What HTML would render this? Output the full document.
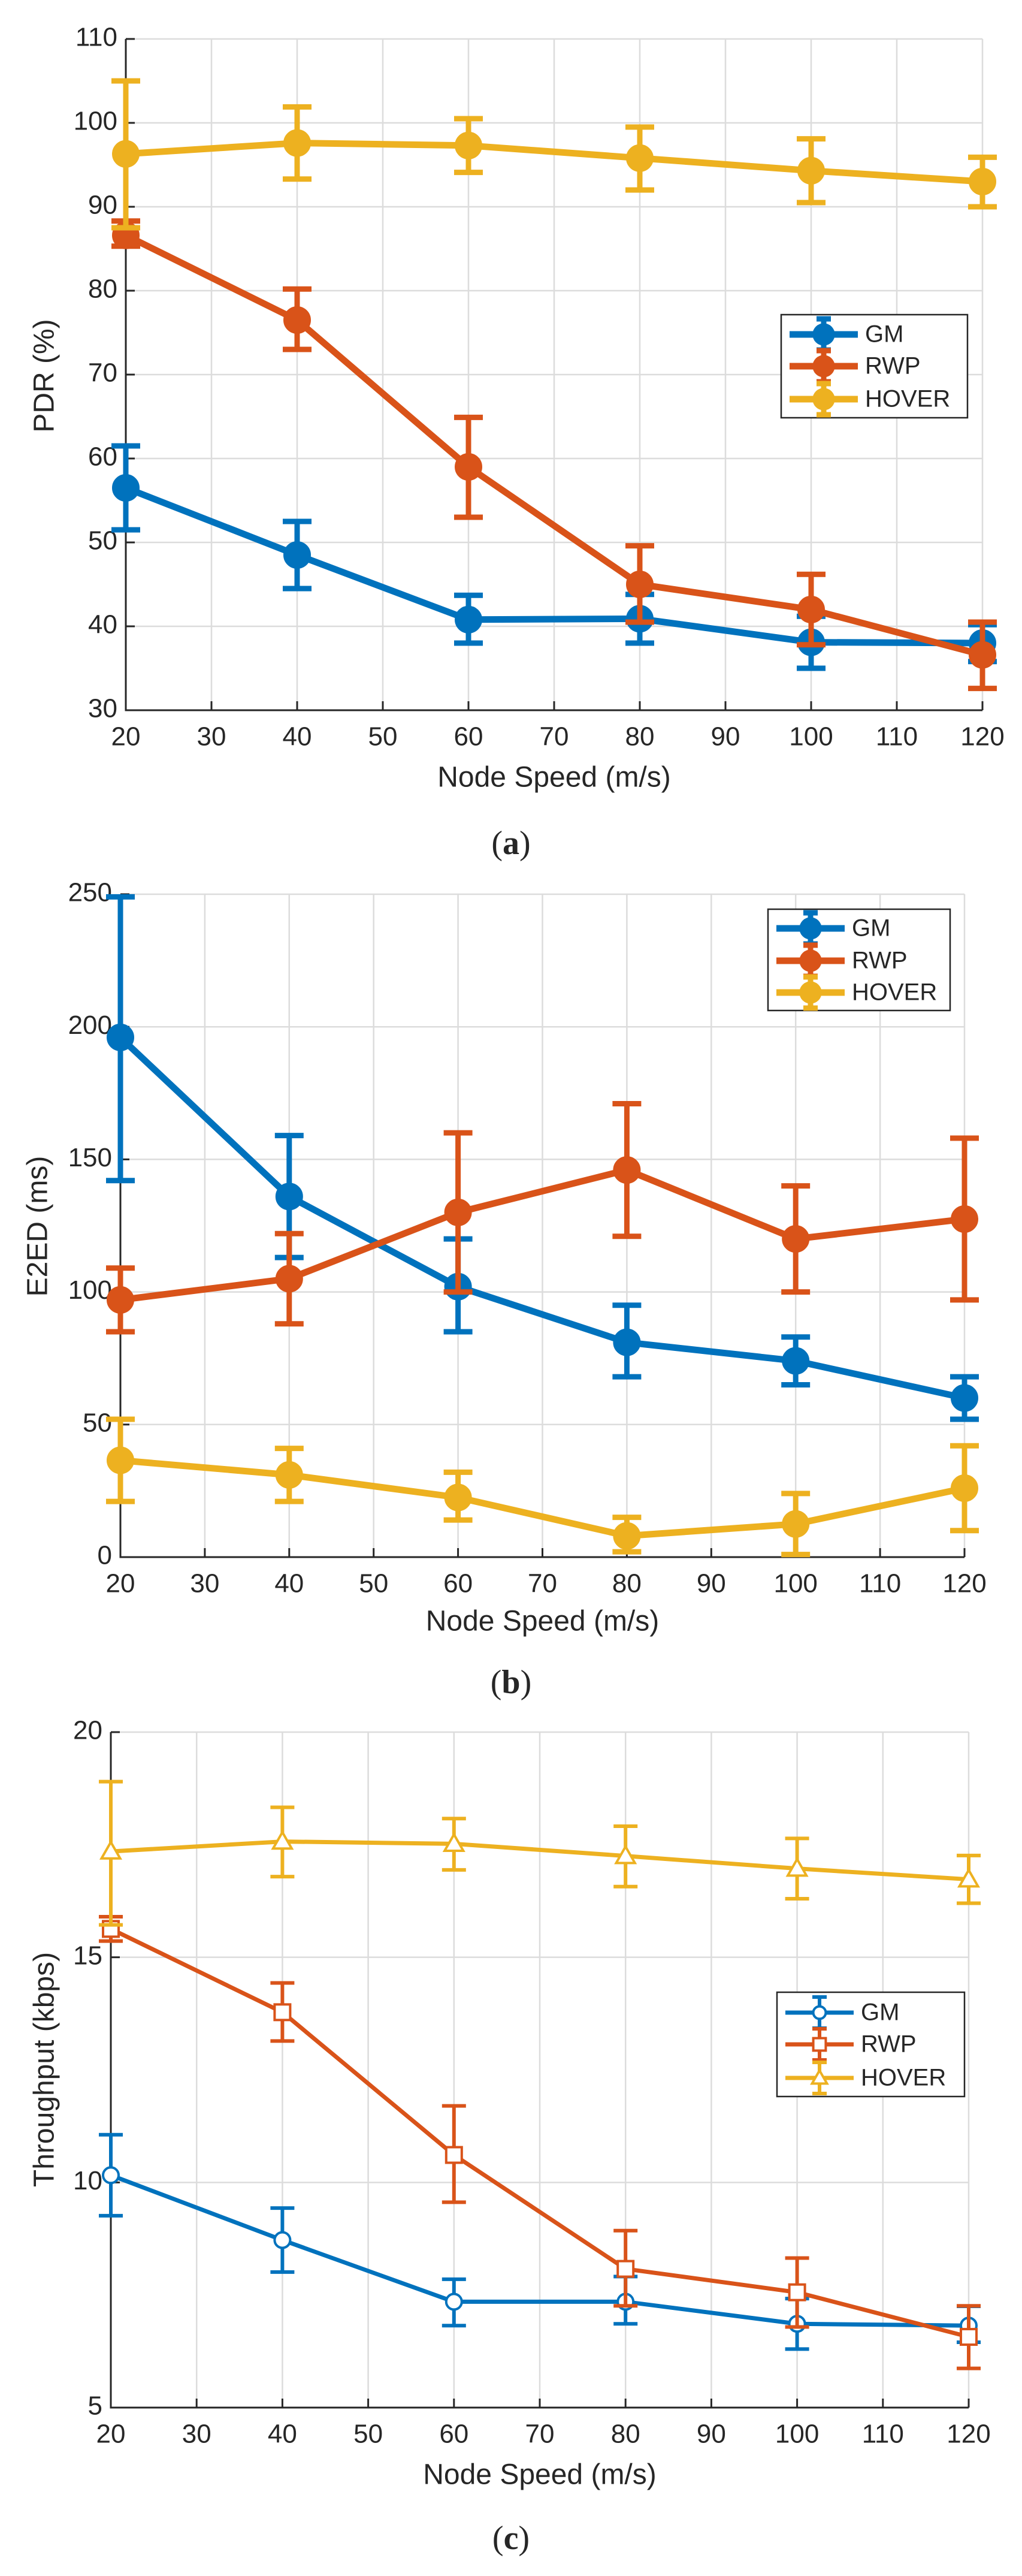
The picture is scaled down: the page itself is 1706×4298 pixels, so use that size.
<!DOCTYPE html>
<html><head><meta charset="utf-8"><style>
html,body{margin:0;padding:0;background:#fff;}
svg{display:block;}
text{font-family:"Liberation Sans",sans-serif;fill:#262626;}
</style></head><body>
<svg id="fig" width="1706" height="4298" viewBox="0 0 1706 4298" xmlns="http://www.w3.org/2000/svg"></svg>
<script>
// ---- shared categories ----
const speeds = [20, 40, 60, 80, 100, 120];
const xTicks = [20, 30, 40, 50, 60, 70, 80, 90, 100, 110, 120];
const seriesNames = ["GM", "RWP", "HOVER"];

// ---- (a) PDR ----
const pdrGM = [56.5, 48.5, 40.8, 40.9, 38.1, 38.0];
const pdrGMLo = [51.5, 44.5, 38.0, 38.0, 35.0, 35.8];
const pdrGMHi = [61.5, 52.5, 43.7, 43.8, 41.2, 40.2];
const pdrRWP = [86.6, 76.5, 59.0, 45.0, 42.0, 36.6];
const pdrRWPLo = [85.3, 73.0, 53.0, 40.5, 37.8, 32.6];
const pdrRWPHi = [88.3, 80.2, 64.9, 49.6, 46.2, 40.5];
const pdrHOV = [96.3, 97.6, 97.3, 95.8, 94.3, 93.0];
const pdrHOVLo = [87.5, 93.3, 94.1, 92.0, 90.5, 90.0];
const pdrHOVHi = [105.0, 101.9, 100.5, 99.5, 98.1, 95.9];
const pdrTicks = [30, 40, 50, 60, 70, 80, 90, 100, 110];

// ---- (b) E2ED ----
const e2eGM = [196, 136, 102, 81, 74, 60];
const e2eGMLo = [142, 113, 85, 68, 65, 52];
const e2eGMHi = [249, 159, 120, 95, 83, 68];
const e2eRWP = [97, 105, 130, 146, 120, 127.5];
const e2eRWPLo = [85, 88, 100, 121, 100, 97];
const e2eRWPHi = [109, 122, 160, 171, 140, 158];
const e2eHOV = [36.5, 31, 22.5, 8, 12.5, 26];
const e2eHOVLo = [21, 21, 14, 2, 1, 10];
const e2eHOVHi = [52, 41, 32, 15, 24, 42];
const e2eTicks = [0, 50, 100, 150, 200, 250];

// ---- (c) Throughput ----
const thrGM = [10.16, 8.72, 7.35, 7.35, 6.86, 6.82];
const thrGMLo = [9.26, 8.01, 6.82, 6.86, 6.30, 6.45];
const thrGMHi = [11.06, 9.43, 7.85, 7.91, 7.42, 7.25];
const thrRWP = [15.63, 13.78, 10.61, 8.08, 7.56, 6.57];
const thrRWPLo = [15.36, 13.14, 9.56, 7.26, 6.79, 5.87];
const thrRWPHi = [15.9, 14.43, 11.7, 8.93, 8.32, 7.26];
const thrHOV = [17.35, 17.57, 17.52, 17.25, 16.97, 16.73];
const thrHOVLo = [15.72, 16.79, 16.94, 16.57, 16.3, 16.2];
const thrHOVHi = [18.9, 18.33, 18.08, 17.91, 17.64, 17.26];
const thrTicks = [5, 10, 15, 20];

const NS = "http://www.w3.org/2000/svg";
const svg = document.getElementById("fig");
const COLORS = ["#0072BD", "#D95319", "#EDB120"];

function mk(tag, attrs, parent) {
  const e = document.createElementNS(NS, tag);
  for (const k in attrs) e.setAttribute(k, attrs[k]);
  (parent || svg).appendChild(e);
  return e;
}

function marker(g, type, cx, cy, color, filled, size) {
  let m;
  if (type === "circle") {
    m = mk("circle", {cx: cx, cy: cy, r: size, fill: filled ? color : "#fff", stroke: color, "stroke-width": filled ? 2 : 4}, g);
  } else if (type === "square") {
    m = mk("rect", {x: cx - size, y: cy - size, width: 2 * size, height: 2 * size, fill: "#fff", stroke: color, "stroke-width": 4}, g);
  } else {
    const s = size * 1.2;
    m = mk("polygon", {points: `${cx},${cy - s} ${cx - s},${cy + s * 0.75} ${cx + s},${cy + s * 0.75}`, fill: "#fff", stroke: color, "stroke-width": 4}, g);
  }
  return m;
}

function drawChart(cfg) {
  const g = mk("g", {});
  
  
  const xs = v => cfg.x0 + (v - 20) / 100 * (cfg.x1 - cfg.x0);
  const ys = v => cfg.yb - (v - cfg.ymin) / (cfg.ymax - cfg.ymin) * (cfg.yb - cfg.yt);
  const grid = mk("g", {stroke: "#dcdcdc", "stroke-width": 2.5}, g);
  
  
  xTicks.forEach(t => { if (t > 20) mk("line", {x1: xs(t), x2: xs(t), y1: cfg.yt, y2: cfg.yb}, grid); });
  cfg.yTicks.forEach(t => { if (t > cfg.ymin) mk("line", {x1: cfg.x0, x2: cfg.x1, y1: ys(t), y2: ys(t)}, grid); });
  const ax = mk("path", {d: `M${cfg.x0},${cfg.yt} V${cfg.yb} H${cfg.x1}`, fill: "none", stroke: "#262626", "stroke-width": 3}, g);
  
  
  xTicks.forEach(t => {
    mk("line", {x1: xs(t), x2: xs(t), y1: cfg.yb, y2: cfg.yb - 15, stroke: "#262626", "stroke-width": 3}, g);
    const tx = mk("text", {x: xs(t), y: cfg.tickY, "font-size": 44, "text-anchor": "middle", "dominant-baseline": "middle"}, g);
    tx.textContent = t;
    
    
  });
  cfg.yTicks.forEach(t => {
    mk("line", {x1: cfg.x0, x2: cfg.x0 + 15, y1: ys(t), y2: ys(t), stroke: "#262626", "stroke-width": 3}, g);
    const ty = mk("text", {x: cfg.x0 - 14, y: ys(t), "font-size": 44, "text-anchor": "end", "dominant-baseline": "middle"}, g);
    ty.textContent = t;
    
    
  });
  const xl = mk("text", {x: (cfg.x0 + cfg.x1) / 2, y: cfg.xlabelY, "font-size": 48, "text-anchor": "middle", "dominant-baseline": "middle"}, g);
  xl.textContent = "Node Speed (m/s)";
  
  
  const yl = mk("text", {x: 0, y: 0, "font-size": 48, "text-anchor": "middle", "dominant-baseline": "middle", transform: `translate(${cfg.ylabelX},${cfg.ylabelY}) rotate(-90)`}, g);
  yl.textContent = cfg.ylabel;
  
  
  cfg.series.forEach((s, si) => {
    const col = COLORS[si];
    const sg = mk("g", {}, g);
    
    
    const pts = speeds.map((x, i) => xs(x) + "," + ys(s.v[i])).join(" ");
    mk("polyline", {points: pts, fill: "none", stroke: col, "stroke-width": cfg.lw, "stroke-linejoin": "round"}, sg);
    speeds.forEach((x, i) => {
      const eb = mk("g", {stroke: col, "stroke-width": cfg.ew}, sg);
      
      
      const X = xs(x);
      mk("line", {x1: X, x2: X, y1: ys(s.lo[i]), y2: ys(s.hi[i])}, eb);
      mk("line", {x1: X - cfg.cap, x2: X + cfg.cap, y1: ys(s.lo[i]), y2: ys(s.lo[i])}, eb);
      mk("line", {x1: X - cfg.cap, x2: X + cfg.cap, y1: ys(s.hi[i]), y2: ys(s.hi[i])}, eb);
      const m = marker(sg, cfg.markers[si], X, ys(s.v[i]), col, cfg.filled, cfg.ms);
      
      
    });
  });
  const L = cfg.legend;
  const lg = mk("g", {}, g);
  
  
  mk("rect", {x: L.x, y: L.y, width: L.w, height: L.h, fill: "#fff", stroke: "#262626", "stroke-width": 2.5}, lg);
  seriesNames.forEach((n, i) => {
    const col = COLORS[i];
    const cy = L.rows[i];
    const le = mk("g", {}, lg);
    
    
    mk("line", {x1: L.x + 14, x2: L.x + 128, y1: cy, y2: cy, stroke: col, "stroke-width": cfg.lw}, le);
    const cx = L.x + 71;
    mk("line", {x1: cx, x2: cx, y1: cy - 26, y2: cy + 26, stroke: col, "stroke-width": cfg.ew}, le);
    mk("line", {x1: cx - 12, x2: cx + 12, y1: cy - 26, y2: cy - 26, stroke: col, "stroke-width": cfg.ew}, le);
    mk("line", {x1: cx - 12, x2: cx + 12, y1: cy + 26, y2: cy + 26, stroke: col, "stroke-width": cfg.ew}, le);
    marker(le, cfg.markers[i], cx, cy, col, cfg.filled, cfg.ms * 0.8);
    const t = mk("text", {x: L.x + 140, y: cy + 2, "font-size": 40, "dominant-baseline": "middle"}, le);
    t.textContent = n;
  });
  const cap = mk("text", {x: 853, y: cfg.capY, "font-size": 56, "text-anchor": "middle", "dominant-baseline": "middle", style: 'font-family:"Liberation Serif",serif'}, g);
  cap.innerHTML = '(<tspan font-weight="bold">' + cfg.capLetter + '</tspan>)';
  
  
}

drawChart({
  name: "chart-pdr", x0: 210, x1: 1640, yt: 65, yb: 1185, ymin: 30, ymax: 110, yTicks: pdrTicks,
  tickY: 1232, xlabelY: 1300, ylabelX: 77, ylabelY: 627, ylabel: "PDR (%)", capY: 1412, capLetter: "a",
  lw: 11, ew: 9, cap: 24, ms: 22, filled: true, markers: ["circle", "circle", "circle"],
  series: [{v: pdrGM, lo: pdrGMLo, hi: pdrGMHi}, {v: pdrRWP, lo: pdrRWPLo, hi: pdrRWPHi}, {v: pdrHOV, lo: pdrHOVLo, hi: pdrHOVHi}],
  legend: {x: 1304, y: 525, w: 311, h: 172, rows: [558, 611, 666]}
});
drawChart({
  name: "chart-e2ed", x0: 201, x1: 1610, yt: 1492, yb: 2598, ymin: 0, ymax: 250, yTicks: e2eTicks,
  tickY: 2645, xlabelY: 2708, ylabelX: 66, ylabelY: 2046, ylabel: "E2ED (ms)", capY: 2812, capLetter: "b",
  lw: 11, ew: 9, cap: 24, ms: 22, filled: true, markers: ["circle", "circle", "circle"],
  series: [{v: e2eGM, lo: e2eGMLo, hi: e2eGMHi}, {v: e2eRWP, lo: e2eRWPLo, hi: e2eRWPHi}, {v: e2eHOV, lo: e2eHOVLo, hi: e2eHOVHi}],
  legend: {x: 1282, y: 1517, w: 304, h: 169, rows: [1549, 1603, 1656]}
});
drawChart({
  name: "chart-throughput", x0: 185, x1: 1617, yt: 2890, yb: 4017, ymin: 5, ymax: 20, yTicks: thrTicks,
  tickY: 4064, xlabelY: 4132, ylabelX: 77, ylabelY: 3453, ylabel: "Throughput (kbps)", capY: 4240, capLetter: "c",
  lw: 7, ew: 6, cap: 20, ms: 13, filled: false, markers: ["circle", "square", "triangle"],
  series: [{v: thrGM, lo: thrGMLo, hi: thrGMHi}, {v: thrRWP, lo: thrRWPLo, hi: thrRWPHi}, {v: thrHOV, lo: thrHOVLo, hi: thrHOVHi}],
  legend: {x: 1297, y: 3324, w: 313, h: 174, rows: [3358, 3411, 3467]}
});
</script>
</body></html>
